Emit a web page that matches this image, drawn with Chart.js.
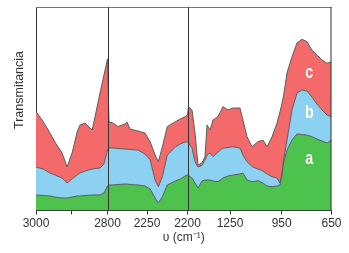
<!DOCTYPE html>
<html lang="es">
<head>
<meta charset="UTF-8">
<title>Transmitancia</title>
<style>
  html, body { margin: 0; padding: 0; background: #fff; }
  #wrap { width: 349px; height: 253px; }
</style>
</head>
<body>
<div id="wrap"><canvas id="myChart" width="349" height="253"></canvas></div>
<script src="https://cdn.jsdelivr.net/npm/chart.js"></script>
<script>
// wavenumber (cm-1) of each sample
const wavenumber = [3000, 2980, 2961, 2947, 2927, 2913, 2899, 2885, 2877, 2863, 2843, 2835, 2821, 2810, 2800,
  2779, 2723, 2654, 2556, 2529, 2487, 2375, 2278, 2246, 2240, 2236, 2231, 2225, 2215, 2209, 2203, 2200,
  2178, 2099, 2032, 1965, 1876, 1809, 1764, 1697, 1630, 1518, 1407, 1295, 1233, 1192, 1175, 1151, 1122,
  1088, 1059, 1035, 1006, 977, 960, 948, 939, 918, 888, 858, 828, 798, 768, 738, 707, 677, 650];

// top edge of each band (arbitrary transmittance units)
const seriesA = [15.5, 15, 14.5, 13.5, 12.5, 12.5, 13.5, 14.5, 14.5, 15, 15.5, 15.5, 15.5, 17.5, 24.5,
  25.5, 25.5, 26, 26.5, 26.5, 26, 25.5, 24.5, 21.5, 12.5, 7.5, 13.8, 25.5, 29.5, 31.5, 34.5, 35.5,
  35, 32.5, 27.5, 22.5, 29.5, 30.5, 30.5, 30.5, 29.5, 28.8, 32.5, 34.5, 35.5, 36.5, 37.5, 30.5, 28.8,
  29.8, 27.5, 24.5, 23.8, 24.5, 25.5, 35.5, 47.5, 60.5, 70.5, 76.5, 76, 75.5, 73.8, 71.5, 69.5, 67.5, 70.5];
const seriesB = [43.5, 41.5, 37.5, 35.5, 32.5, 27.5, 31.5, 35.5, 37.5, 39.5, 41.5, 42, 42.5, 46.5, 60.5,
  62.5, 62.5, 62, 61.5, 61.5, 61, 60.5, 56.5, 50.5, 30.5, 23.8, 33.8, 55.5, 63.5, 66.5, 68.5, 68.8,
  67.5, 62.5, 48.8, 43.5, 45, 50.5, 55.5, 57.5, 53.8, 58.5, 62.5, 63, 63.8, 62.5, 55.5, 48.8, 43.8,
  41.5, 39.5, 36.5, 33.8, 32.5, 27.5, 38.5, 50.5, 70.5, 100.5, 117.5, 120.5, 119.5, 113.5, 106.5, 100.5, 95.5, 93.8];
const seriesC = [99, 89, 77.5, 68.5, 57.5, 43.5, 57.5, 78.5, 85.5, 87.5, 80.5, 93.5, 117.5, 135.5, 151.5,
  88.5, 87.5, 84, 86.5, 88.5, 81.5, 79.5, 77.5, 68.5, 55.5, 48.8, 63.8, 83.8, 88.8, 91.5, 93.8, 95.5,
  103.8, 100.5, 77.5, 45.5, 47.5, 53.8, 85.5, 80.5, 90.5, 93.8, 103.8, 100.5, 102.5, 102.5, 90.5, 73.8, 63.8,
  68.8, 70.5, 63.8, 73.8, 87.5, 98.5, 107.5, 114.5, 137.5, 153.8, 167.5, 171.2, 168.8, 160.5, 155.5, 150.5, 147.2, 148.8];

// broken wavenumber axis
const tickWavenumbers = [3000, 2900, 2800, 2250, 2200, 1250, 950, 650];
const tickLabels = ['3000', '', '2800', '2250', '2200', '1250', '950', '650'];
const breakWavenumbers = [3000, 2800, 2250, 2200, 1250, 950, 650];
const breakAxis = [0, 71.5, 111, 151.5, 194, 245.7, 295.5];
const dividers = [2800, 2200];

function toAxis(wn) {
  for (let i = 0; i < breakWavenumbers.length - 1; i++) {
    const a = breakWavenumbers[i], b = breakWavenumbers[i + 1];
    if (wn <= a && wn >= b) {
      return breakAxis[i] + (a - wn) / (a - b) * (breakAxis[i + 1] - breakAxis[i]);
    }
  }
  return wn > breakWavenumbers[0] ? breakAxis[0] : breakAxis[breakAxis.length - 1];
}

function pts(values) {
  return wavenumber.map((wn, i) => ({ x: toAxis(wn), y: values[i] }));
}

const frame = {
  id: 'frame',
  afterDatasetsDraw(chart) {
    const { ctx, chartArea: ca, scales } = chart;
    ctx.save();
    // top and right border
    ctx.strokeStyle = '#777';
    ctx.lineWidth = 1;
    ctx.beginPath();
    ctx.moveTo(ca.left, ca.top + 0.5);
    ctx.lineTo(ca.right, ca.top + 0.5);
    ctx.stroke();
    ctx.strokeStyle = '#333';
    ctx.beginPath();
    ctx.moveTo(ca.right - 0.5, ca.top);
    ctx.lineTo(ca.right - 0.5, ca.bottom);
    ctx.stroke();
    // break lines
    dividers.forEach(wn => {
      const x = Math.round(scales.x.getPixelForValue(toAxis(wn))) + 0.5;
      ctx.beginPath();
      ctx.moveTo(x, ca.top);
      ctx.lineTo(x, ca.bottom);
      ctx.stroke();
    });
    // band letters
    ctx.fillStyle = '#fff';
    ctx.font = 'bold 19px "Liberation Sans", Arial, sans-serif';
    ctx.textAlign = 'center';
    ctx.textBaseline = 'middle';
    chart.options.plugins.frame.letters.forEach(l => {
      const x = scales.x.getPixelForValue(toAxis(l.wn));
      const y = scales.y.getPixelForValue(l.y);
      ctx.save();
      ctx.translate(x, y);
      ctx.scale(0.75, 1);
      ctx.fillText(l.text, 0, 0);
      ctx.restore();
    });
    // y title
    ctx.fillStyle = '#333';
    ctx.font = '12.5px "Liberation Sans", Arial, sans-serif';
    ctx.translate(20, 90);
    ctx.rotate(-Math.PI / 2);
    ctx.fillText('Transmitancia', 0, 0);
    ctx.restore();
  }
};

const lineColor = '#5c5c5c';

new Chart(document.getElementById('myChart'), {
  type: 'line',
  data: {
    datasets: [
      { label: 'a', data: pts(seriesA), fill: 'origin', backgroundColor: 'rgb(77,194,77)',
        borderColor: lineColor, borderWidth: 1, pointRadius: 0, tension: 0 },
      { label: 'b', data: pts(seriesB), fill: '-1', backgroundColor: 'rgb(140,208,242)',
        borderColor: lineColor, borderWidth: 1, pointRadius: 0, tension: 0 },
      { label: 'c', data: pts(seriesC), fill: '-1', backgroundColor: 'rgb(244,106,106)',
        borderColor: lineColor, borderWidth: 1, pointRadius: 0, tension: 0 }
    ]
  },
  options: {
    responsive: false,
    animation: false,
    layout: { padding: { top: 7, right: 17.5, left: 0, bottom: 0 } },
    plugins: {
      legend: { display: false },
      tooltip: { enabled: false },
      frame: {
        letters: [
          { text: 'a', wn: 784, y: 52 },
          { text: 'b', wn: 784, y: 98 },
          { text: 'c', wn: 784, y: 138 }
        ]
      }
    },
    scales: {
      x: {
        type: 'linear',
        min: breakAxis[0],
        max: breakAxis[breakAxis.length - 1],
        afterBuildTicks(scale) {
          scale.ticks = tickWavenumbers.map(wn => ({ value: toAxis(wn) }));
        },
        afterFit(scale) { scale.height = 42.5; },
        ticks: {
          autoSkip: false,
          maxRotation: 0,
          padding: 2,
          color: '#333',
          font: { family: '"Liberation Sans", Arial, sans-serif', size: 12 },
          callback: (v, i) => tickLabels[i]
        },
        grid: { drawOnChartArea: false, drawTicks: true, tickLength: 4, color: '#333' },
        border: { color: '#333', width: 1 },
        title: {
          display: true,
          text: 'υ (cm⁻¹)',
          color: '#333',
          font: { family: '"Liberation Sans", Arial, sans-serif', size: 12 },
          padding: { top: 0, bottom: 8 }
        }
      },
      y: {
        min: 0,
        max: 203.5,
        afterFit(scale) { scale.width = 36; },
        ticks: { display: false },
        grid: { display: false },
        border: { color: '#333', width: 1 }
      }
    }
  },
  plugins: [frame]
});
</script>
</body>
</html>
